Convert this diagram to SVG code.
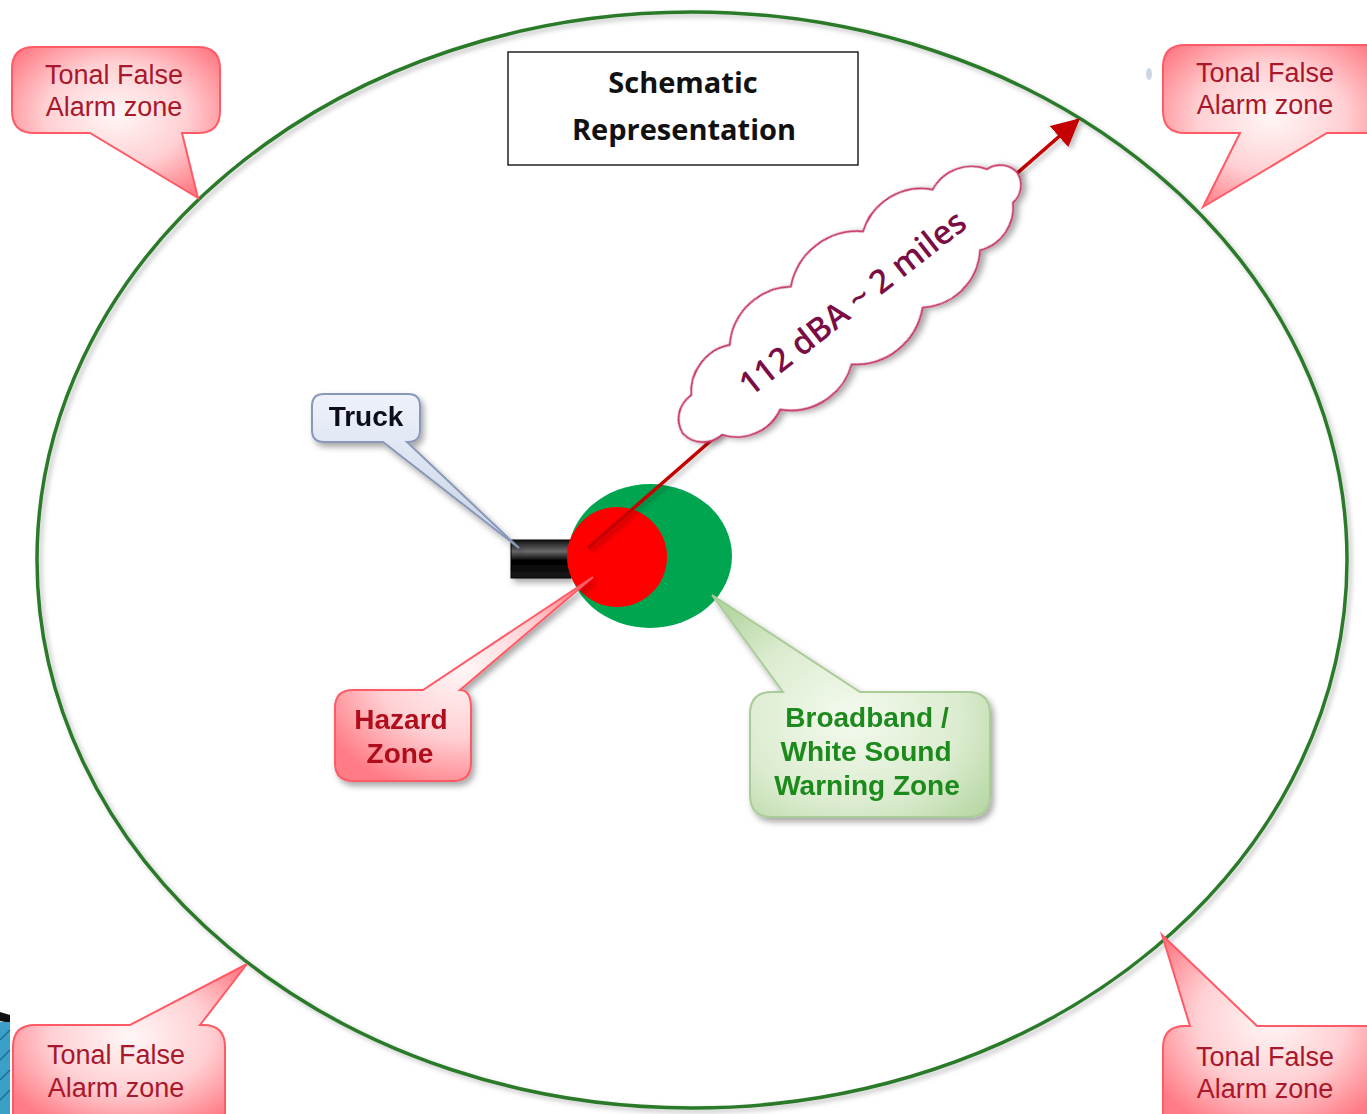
<svg xmlns="http://www.w3.org/2000/svg" width="1367" height="1114" viewBox="0 0 1367 1114">
<defs>
  <style>
    .tonal { font-family: "Liberation Sans", Arial, sans-serif; font-size: 27px; fill: #a8182c; text-anchor: middle; }
    .pinkbub { fill: url(#pinkGrad); stroke: #ff5a66; stroke-width: 2; }
    .bold { font-family: "Liberation Sans", Arial, sans-serif; font-weight: bold; text-anchor: middle; }
    .title { font-family: "Open Sans", "Liberation Sans", sans-serif; font-weight: bold; font-size: 29px; fill: #111; text-anchor: middle; }
  </style>
  <radialGradient id="pinkGrad" cx="0.5" cy="0.45" r="0.62">
    <stop offset="0" stop-color="#fff6f6"/>
    <stop offset="0.55" stop-color="#ffd0d3"/>
    <stop offset="1" stop-color="#ff7c86"/>
  </radialGradient>
  <radialGradient id="greenGrad" cx="0.5" cy="0.55" r="0.65">
    <stop offset="0" stop-color="#f4faee"/>
    <stop offset="0.6" stop-color="#dcecd0"/>
    <stop offset="1" stop-color="#b6d6a2"/>
  </radialGradient>
  <linearGradient id="blueGrad" x1="0" y1="0" x2="0" y2="1">
    <stop offset="0" stop-color="#eef2fa"/>
    <stop offset="1" stop-color="#c6d2e6"/>
  </linearGradient>
  <linearGradient id="truckGrad" x1="0" y1="0" x2="0" y2="1">
    <stop offset="0" stop-color="#111"/>
    <stop offset="0.3" stop-color="#6a6a6a"/>
    <stop offset="0.55" stop-color="#000"/>
    <stop offset="1" stop-color="#1a1a1a"/>
  </linearGradient>
  <filter id="shadow" x="-20%" y="-20%" width="150%" height="150%">
    <feDropShadow dx="3" dy="4" stdDeviation="3" flood-color="#000" flood-opacity="0.35"/>
  </filter>
  <filter id="softshadow" x="-5%" y="-5%" width="110%" height="110%">
    <feDropShadow dx="3" dy="3" stdDeviation="2.5" flood-color="#000" flood-opacity="0.25"/>
  </filter>
  <marker id="arrowHead" viewBox="0 0 10 10" refX="9" refY="5" markerWidth="8" markerHeight="8" orient="auto" markerUnits="strokeWidth">
    <path d="M0,0 L10,5 L0,10 Z" fill="#c40000"/>
  </marker>
</defs>

<rect width="1367" height="1114" fill="#ffffff"/>

<!-- large range ellipse -->
<g id="range">
  <ellipse cx="692" cy="560" rx="655" ry="548" fill="none" stroke="#2a7a2a" stroke-width="3.5" filter="url(#softshadow)"/>
</g>

<!-- corner decoration -->
<g id="corner-deco">
  <polygon points="0,1012 10,1015 10,1023 0,1021" fill="#111"/>
  <rect x="0" y="1022" width="10" height="92" fill="#3aa0c8"/>
  <path d="M0,1040 L10,1030 M0,1060 L10,1050 M0,1080 L10,1070 M0,1100 L10,1090" stroke="#1d6f96" stroke-width="1.5"/>
</g>
<ellipse cx="1149" cy="74" rx="3" ry="6" fill="#b8c4d8" opacity="0.7"/>

<!-- title -->
<g id="title">
  <rect x="508" y="52" width="350" height="113" fill="#fff" stroke="#222" stroke-width="1.5"/>
  <text class="title" x="683" y="93">Schematic</text>
  <text class="title" x="684" y="140">Representation</text>
</g>

<!-- centre: truck and zones -->
<g id="truck">
  <rect x="511" y="540" width="60" height="38" fill="url(#truckGrad)" stroke="#000" stroke-width="1" filter="url(#shadow)"/>
</g>
<g id="warning-zone">
  <ellipse cx="650" cy="556" rx="82" ry="72" fill="#00a550"/>
</g>
<g id="hazard-zone">
  <circle cx="617" cy="557" r="50" fill="#ff0000"/>
</g>

<!-- connectors -->
<g id="connectors">
  <line x1="588" y1="548" x2="1078" y2="120" stroke="#c40000" stroke-width="3.5" marker-end="url(#arrowHead)" filter="url(#softshadow)"/>
</g>

<!-- range label cloud -->
<g id="range-label" transform="translate(850,303) rotate(-38)">
  <path d="M212,0 A23,23 0 0 1 190.3,21.1 A44,44 0 0 1 135,38.3 A61,61 0 0 1 54.4,48.3 A68,68 0 0 1 -36.5,49.2 A63,63 0 0 1 -120.5,41 A48,48 0 0 1 -181.9,25 A28,28 0 0 1 -212,0 A28,28 0 0 1 -181.9,-25 A48,48 0 0 1 -120.5,-41 A63,63 0 0 1 -36.5,-49.2 A68,68 0 0 1 54.4,-48.3 A61,61 0 0 1 135,-38.3 A44,44 0 0 1 190.3,-21.1 A23,23 0 0 1 212,0 Z" fill="#fff" stroke="#c8386a" stroke-width="2" filter="url(#shadow)"/>
  <text x="2" y="13" font-family="'Open Sans', 'DejaVu Sans', sans-serif" font-weight="600" font-size="33" fill="#7b0d45" text-anchor="middle">112 dBA ~ 2 miles</text>
</g>

<!-- callouts -->
<g id="callout-truck" filter="url(#shadow)">
  <path d="M324,394 H408 Q420,394 420,406 V430 Q420,442 408,442 H407 L519,548 L383,442 H324 Q312,442 312,430 V406 Q312,394 324,394 Z" fill="url(#blueGrad)" stroke="#8a98b8" stroke-width="2"/>
  <text class="bold" x="366" y="426" font-size="28" fill="#0a0a1a">Truck</text>
</g>

<g id="callout-hazard" filter="url(#shadow)">
  <path d="M353,690 H423 L593,577 L460,690 Q471,690 471,708 V763 Q471,781 453,781 H353 Q335,781 335,763 V708 Q335,690 353,690 Z" class="pinkbub"/>
  <text class="bold" x="401" y="729" font-size="28" fill="#b0101e">Hazard</text>
  <text class="bold" x="400" y="763" font-size="28" fill="#b0101e">Zone</text>
</g>

<g id="callout-broadband" filter="url(#shadow)">
  <path d="M772,692 H783 L712,595 L860,692 H968 Q990,692 990,714 V795 Q990,817 968,817 H772 Q750,817 750,795 V714 Q750,692 772,692 Z" fill="url(#greenGrad)" stroke="#a9cc98" stroke-width="2"/>
  <text class="bold" x="867" y="727" font-size="28" fill="#1a8a1a">Broadband /</text>
  <text class="bold" x="866" y="761" font-size="28" fill="#1a8a1a">White Sound</text>
  <text class="bold" x="867" y="795" font-size="28" fill="#1a8a1a">Warning Zone</text>
</g>

<g id="callout-tonal-tl">
  <path d="M34,47 H198 Q220,47 220,69 V111 Q220,133 198,133 H182 L198,198 L90,133 H34 Q12,133 12,111 V69 Q12,47 34,47 Z" class="pinkbub"/>
  <text class="tonal" x="114" y="84">Tonal False</text>
  <text class="tonal" x="114" y="116">Alarm zone</text>
</g>

<g id="callout-tonal-tr">
  <path d="M1185,45 H1380 V133 H1327 L1203,207 L1240,133 H1185 Q1163,133 1163,111 V67 Q1163,45 1185,45 Z" class="pinkbub"/>
  <text class="tonal" x="1265" y="82">Tonal False</text>
  <text class="tonal" x="1265" y="114">Alarm zone</text>
</g>

<g id="callout-tonal-bl">
  <path d="M35,1025 H130 L247,964 L200,1025 H203 Q225,1025 225,1047 V1125 H13 V1047 Q13,1025 35,1025 Z" class="pinkbub"/>
  <text class="tonal" x="116" y="1064">Tonal False</text>
  <text class="tonal" x="116" y="1097">Alarm zone</text>
</g>

<g id="callout-tonal-br">
  <path d="M1185,1026 H1190 L1162,935 L1257,1026 H1380 V1125 H1163 V1048 Q1163,1026 1185,1026 Z" class="pinkbub"/>
  <text class="tonal" x="1265" y="1066">Tonal False</text>
  <text class="tonal" x="1265" y="1098">Alarm zone</text>
</g>
</svg>
